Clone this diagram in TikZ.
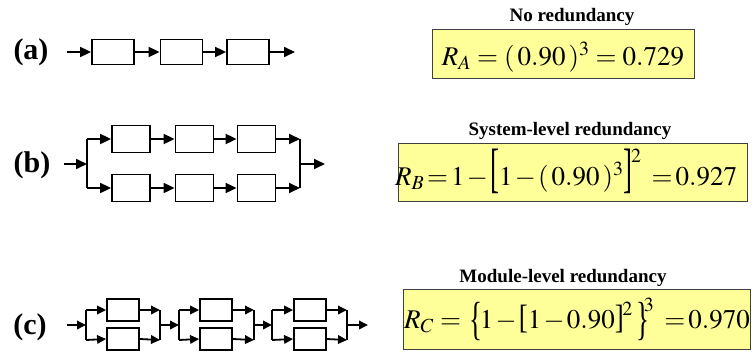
\documentclass[tikz,border=0pt]{standalone}
\usepackage{mathptmx}
\usepackage[no-math]{fontspec}
\usepackage{graphicx}
\setmainfont{Liberation Serif}
\usetikzlibrary{arrows.meta}
\definecolor{fyellow}{HTML}{FFFF99}
\definecolor{fborder}{HTML}{404040}
% stretched delimiters: #1 char, #2 vertical scale, #3 raise
\newcommand\sdo[3]{\mathopen{\raisebox{#3}{\scalebox{1}[#2]{#1}}}}
\newcommand\sdc[3]{\mathclose{\raisebox{#3}{\scalebox{1}[#2]{#1}}}}
% manually raised exponent
\newcommand\supr[2]{\raisebox{#1}{$\scriptstyle #2$}}
\tikzset{
  blk/.style={draw, line width=1.8pt, inner sep=0pt},
  blka/.style={blk, minimum width=42pt, minimum height=25pt},
  blkb/.style={blk, minimum width=38pt, minimum height=27pt},
  blkc/.style={blk, minimum width=32pt, minimum height=22pt},
  ln/.style={line width=1.8pt},
  arr/.style={line width=1.8pt, -{Triangle[length=11pt,width=10pt]}},
  arrc/.style={line width=1.8pt, -{Triangle[length=9pt,width=8.5pt]}},
  lbl/.style={font=\fontsize{30}{34}\selectfont\bfseries, inner sep=0pt},
  ttl/.style={font=\fontsize{19}{22}\selectfont\bfseries, inner sep=0pt, anchor=base},
  fbox/.style={draw=fborder, line width=0.9pt, fill=fyellow, inner sep=0pt},
  ftxt/.style={font=\fontsize{27}{30}\selectfont, inner sep=0pt, anchor=base}
}
\begin{document}
\begin{tikzpicture}[x=1pt,y=-1pt]
\useasboundingbox (0,0) rectangle (754,356);

% ---------- (a)
\node[lbl] (la) at (31,52) {(a)};
\coordinate (ain) at (67,52);
\node[blka] (a1) at (113,52) {};
\node[blka] (a2) at (181.5,52) {};
\node[blka] (a3) at (248,52) {};
\coordinate (aout) at (295,52);
\draw[arr] (ain) -- (a1.west);
\draw[arr] (a1.east) -- (a2.west);
\draw[arr] (a2.east) -- (a3.west);
\draw[arr] (a3.east) -- (aout);

% ---------- (b)
\node[lbl] (lb) at (32,165) {(b)};
\coordinate (bin) at (64,164);
\coordinate (bs) at (87,164);
\coordinate (bst) at (87,139);
\coordinate (bsb) at (87,188);
\coordinate (bm) at (300,164);
\coordinate (bmt) at (300,139);
\coordinate (bmb) at (300,188);
\coordinate (bout) at (325,164);
\node[blkb] (b11) at (131,139) {};
\node[blkb] (b12) at (194.5,139) {};
\node[blkb] (b13) at (256.5,139) {};
\node[blkb] (b21) at (131,188) {};
\node[blkb] (b22) at (194.5,188) {};
\node[blkb] (b23) at (256.5,188) {};
\draw[arr] (bin) -- (bs);
\draw[ln] (bst) -- (bsb);
\draw[arr] (bst) -- (b11.west);
\draw[arr] (bsb) -- (b21.west);
\draw[arr] (b11.east) -- (b12.west);
\draw[arr] (b12.east) -- (b13.west);
\draw[arr] (b21.east) -- (b22.west);
\draw[arr] (b22.east) -- (b23.west);
\draw[arr] (b13.east) -- (bmt);
\draw[arr] (b23.east) -- (bmb);
\draw[ln] (bmt) -- (bmb);
\draw[arr] (bm) -- (bout);

% ---------- (c)
\node[lbl] (lc) at (30,327) {(c)};
\coordinate (cin) at (67,325);
\coordinate (cout) at (368,325);
\foreach \i/\s/\c/\m in {1/86/123/160, 2/179/216/254, 3/272/310/347}{
  \coordinate (cs\i) at (\s,325);
  \coordinate (cst\i) at (\s,310);
  \coordinate (csb\i) at (\s,340);
  \coordinate (cm\i) at (\m,325);
  \coordinate (cmt\i) at (\m,310);
  \coordinate (cmb\i) at (\m,340);
  \node[blkc] (ct\i) at (\c,310) {};
  \node[blkc] (cb\i) at (\c,339) {};
  \draw[ln] (cst\i) -- (csb\i);
  \draw[arrc] (cst\i) -- (ct\i.west);
  \draw[arrc] (csb\i) -- (cb\i.west);
  \draw[arrc] (ct\i.east) -- (cmt\i);
  \draw[arrc] (cb\i.east) -- (cmb\i);
  \draw[ln] (cmt\i) -- (cmb\i);
}
\draw[arrc] (cin) -- (cs1);
\draw[arrc] (cm1) -- (cs2);
\draw[arrc] (cm2) -- (cs3);
\draw[arrc] (cm3) -- (cout);

% ---------- formulas
\node[ttl] (ta) at (572,21) {No redundancy};
\node[fbox, minimum width=262pt, minimum height=49pt] (fa) at (563,53.5) {};
\node[ftxt] (xa) at (563,65) {$R_A = (\,0.90\,)^3 = 0.729$};

\node[ttl] (tb) at (570,135) {System-level redundancy};
\node[fbox, minimum width=349pt, minimum height=58pt] (fb) at (572.5,172) {};
\node[ftxt] (xb) at (566,185) {\thickmuskip=2mu\medmuskip=1.5mu$R_B = 1 - \sdo{[}{2}{-1pt} 1 - (\,0.90\,)^3 \sdc{]}{2}{-1pt}\mkern-1mu\supr{23pt}{2}\mkern5mu = 0.927$};

\node[ttl] (tc) at (563,282) {Module-level redundancy};
\node[fbox, minimum width=347pt, minimum height=60pt] (fc) at (576.5,319) {};
\node[ftxt] (xc) at (577,328) {\thickmuskip=2mu\medmuskip=1.5mu$R_C \mkern2mu=\mkern4mu \sdo{\{}{1.72}{-6.5pt}\mkern-2mu 1 - \sdo{[}{1.25}{-0.5pt} 1 - 0.90 \sdc{]}{1.25}{-0.5pt}\mkern-1mu\supr{13pt}{2}\mkern3mu \sdc{\}}{1.72}{-6.5pt}\mkern-4mu\supr{17pt}{3}\mkern5mu = 0.970$};
\end{tikzpicture}
\end{document}
